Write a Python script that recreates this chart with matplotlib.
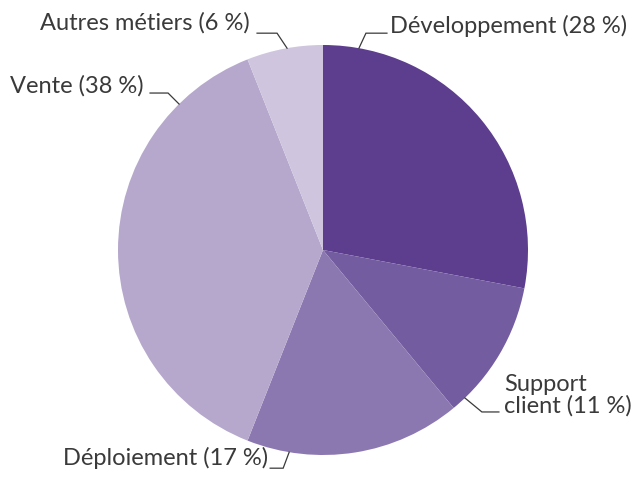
import numpy as np
import matplotlib
matplotlib.use("Agg")
import matplotlib.pyplot as plt

labels = ["Développement (28 %)", "Support\nclient (11 %)", "Déploiement (17 %)",
          "Vente (38 %)", "Autres métiers (6 %)"]
values = [28, 11, 17, 38, 6]
colors = ["#5c3d8e", "#745ca0", "#8c78b1", "#b6a8cc", "#cfc5df"]

W, H = 644, 483
fig = plt.figure(figsize=(W / 100, H / 100), dpi=100)
ax = fig.add_axes([0, 0, 1, 1])

cx, cy, R = 323, H - 250, 205
ax.pie(values, colors=colors, startangle=90, counterclock=False,
       center=(cx, cy), radius=R, wedgeprops=dict(linewidth=0))
ax.set_xlim(0, W)
ax.set_ylim(0, H)
ax.set_aspect("equal")
ax.axis("off")

# leader layout: (touch angle deg, elbow dx, elbow dy, horizontal length, text gap, baseline offset)
leaders = [
    (79.9, 7, 15, 21, 3, 0),
    (-46.2, 17, -14, 17, 5, -1),
    (-99.5, -6, -16, -13, -2, 3),
    (134.6, -11, 11, -18, -6, 0),
    (100.1, -10, 15, -20, -7, 4),
]
txtcol = "#3a3a3a"
for lab, (ang, ex, ey, hl, gap, boff) in zip(labels, leaders):
    a = np.deg2rad(ang)
    x0, y0 = cx + R * np.cos(a), cy + R * np.sin(a)
    x1, y1 = x0 + ex, y0 + ey
    x2 = x1 + hl
    ax.plot([x0, x1, x2], [y0, y1, y1], color="#3a3a3a", lw=0.9,
            solid_joinstyle="miter")
    ax.text(x2 + gap, y1 + boff, lab, ha="left" if hl > 0 else "right",
            va="baseline", fontsize=17, color=txtcol, family="Lato",
            linespacing=1.05, multialignment="left")

fig.savefig("out.png", dpi=100)
